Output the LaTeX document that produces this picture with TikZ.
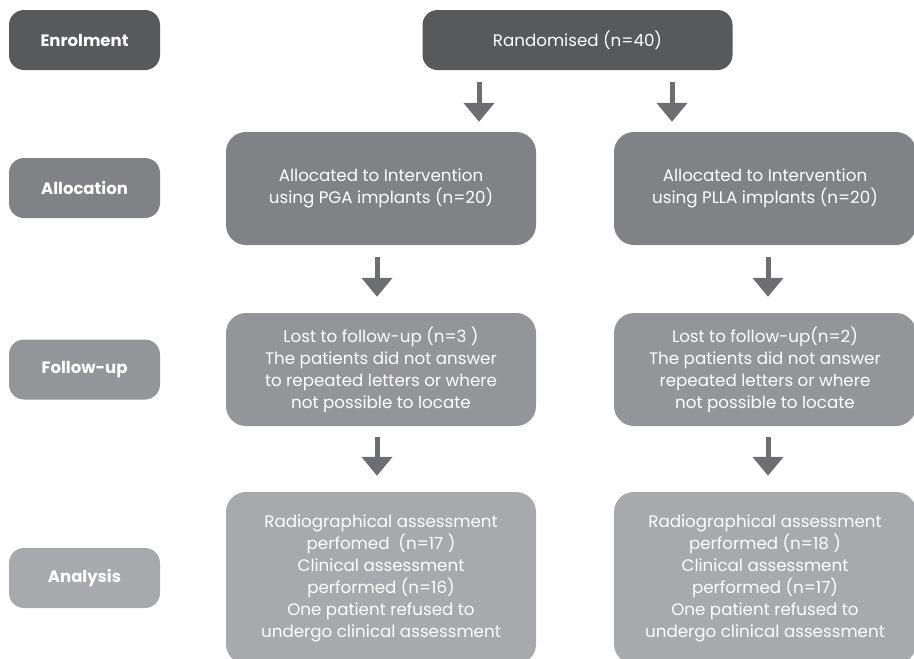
\documentclass[tikz,border=0pt]{standalone}
\usepackage{fontspec}
\setmainfont{Poppins}
\usetikzlibrary{arrows.meta}
\definecolor{enrolgrey}{HTML}{58595B}
\definecolor{allocgrey}{HTML}{808285}
\definecolor{followgrey}{HTML}{939598}
\definecolor{analysisgrey}{HTML}{A7A9AC}
\definecolor{arrowgrey}{HTML}{6D6E71}
\begin{document}
\begin{tikzpicture}[x=1pt,y=-1pt,
    stage/.style={rounded corners=15pt,minimum width=151pt,minimum height=60pt,
      inner sep=0pt,text=white,font=\fontsize{16.5}{20}\selectfont\bfseries},
    flowbox/.style={rounded corners=20pt,inner sep=0pt,align=center,text=white,
      font=\fontsize{16.7}{22}\selectfont},
    flow/.style={-{Triangle[width=30pt,length=19pt]},line width=5pt,draw=arrowgrey}]
    \useasboundingbox (0,0) rectangle (914,659);
    \clip (0,0) rectangle (914,659);

    % Stages
    \node[stage,fill=enrolgrey] (enrol) at (84.5,40) {Enrolment};
    \node[stage,fill=allocgrey] (alloc) at (84.5,188) {Allocation};
    \node[stage,fill=followgrey] (follow) at (84.5,369.5) {Follow-up};
    \node[stage,fill=analysisgrey] (analysis) at (84.5,578) {Analysis};

    % Boxes
    \node[flowbox,fill=enrolgrey,minimum width=310pt,minimum height=60pt,rounded corners=15pt]
      (rand) at (577.5,40) {Randomised (n=40)};
    \node[flowbox,fill=allocgrey,minimum width=310pt,minimum height=113pt]
      (pga) at (381,188.5) {Allocated to Intervention\\using PGA implants (n=20)};
    \node[flowbox,fill=allocgrey,minimum width=302pt,minimum height=113pt]
      (plla) at (765,188.5) {Allocated to Intervention\\using PLLA implants (n=20)};
    \node[flowbox,fill=followgrey,minimum width=310pt,minimum height=113pt]
      (lostpga) at (381,369.5) {Lost to follow-up (n=3 )\\The patients did not answer\\to repeated letters or where\\not possible to locate};
    \node[flowbox,fill=followgrey,minimum width=302pt,minimum height=113pt]
      (lostplla) at (765,369.5) {Lost to follow-up(n=2)\\The patients did not answer\\repeated letters or where\\not possible to locate};
    \node[flowbox,fill=analysisgrey,minimum width=310pt,minimum height=172pt]
      (anpga) at (381,578) {Radiographical assessment\\perfomed\ \ (n=17 )\\Clinical assessment\\performed (n=16)\\One patient refused to\\undergo clinical assessment};
    \node[flowbox,fill=analysisgrey,minimum width=302pt,minimum height=172pt]
      (anplla) at (765,578) {Radiographical assessment\\performed (n=18 )\\Clinical assessment\\performed (n=17)\\One patient refused to\\undergo clinical assessment};

    % Arrows
    \draw[flow] ([xshift=-98.5pt,yshift=-12pt]rand.south) -- ([xshift=98pt,yshift=10pt]pga.north);
    \draw[flow] ([xshift=94.5pt,yshift=-12pt]rand.south) -- ([xshift=-93pt,yshift=10pt]plla.north);
    \draw[flow] ([xshift=-4pt,yshift=-12pt]pga.south) -- ([xshift=-4pt,yshift=16pt]lostpga.north);
    \draw[flow] ([xshift=3pt,yshift=-12pt]plla.south) -- ([xshift=3pt,yshift=16pt]lostplla.north);
    \draw[flow] ([xshift=-4pt,yshift=-11pt]lostpga.south) -- ([xshift=-4pt,yshift=16pt]anpga.north);
    \draw[flow] ([xshift=3pt,yshift=-11pt]lostplla.south) -- ([xshift=3pt,yshift=16pt]anplla.north);
\end{tikzpicture}
\end{document}
